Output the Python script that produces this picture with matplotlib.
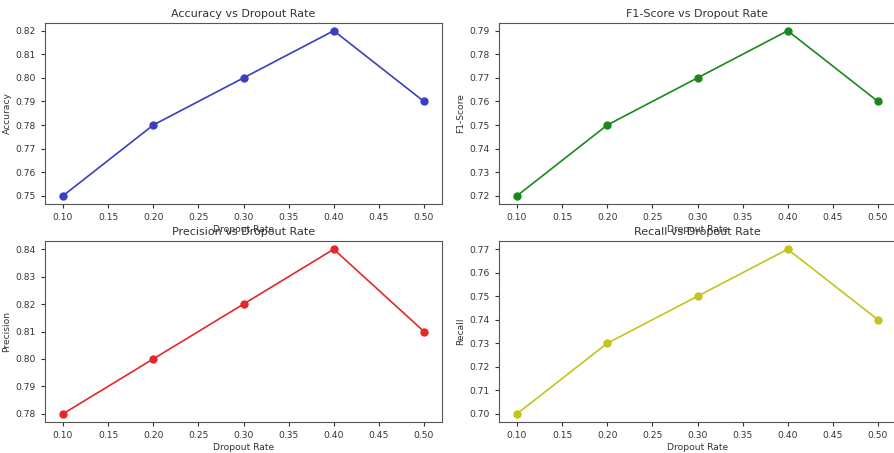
import matplotlib
matplotlib.use("Agg")
import matplotlib.pyplot as plt
from matplotlib.ticker import MultipleLocator

dropout_rates = [0.1, 0.2, 0.3, 0.4, 0.5]
accuracy = [0.75, 0.78, 0.80, 0.82, 0.79]
f1_score = [0.72, 0.75, 0.77, 0.79, 0.76]
precision = [0.78, 0.80, 0.82, 0.84, 0.81]
recall = [0.70, 0.73, 0.75, 0.77, 0.74]

W, H = 894, 453


def px_axes(fig, x0, y0, x1, y1):
    # pixel box (top-left origin) -> figure fraction
    return fig.add_axes([x0 / W, 1 - y1 / H, (x1 - x0) / W, (y1 - y0) / H])


def main():
    plt.rcParams["font.size"] = 6.6
    fig = plt.figure(figsize=(W / 100, H / 100), dpi=100)

    panels = [
        ((45, 22.5, 442, 204), accuracy, "Accuracy", "#3a3fc0"),
        ((499, 22.5, 896, 204), f1_score, "F1-Score", "#1a891a"),
        ((45, 241, 442, 422), precision, "Precision", "#e3282a"),
        ((499, 241, 896, 422), recall, "Recall", "#c4c41c"),
    ]

    for box, values, name, color in panels:
        ax = px_axes(fig, *box)
        ax.plot(dropout_rates, values, marker="o", color=color,
                linewidth=1.2, markersize=5)
        ax.yaxis.set_major_locator(MultipleLocator(0.01))
        ax.set_title(f"{name} vs Dropout Rate", fontsize=8, color="#333333", pad=4)
        ax.set_xlabel("Dropout Rate", color="#333333", labelpad=2)
        ax.set_ylabel(name, color="#333333", labelpad=3)
        ax.tick_params(colors="#333333", length=3, width=0.8, labelsize=6.6)
        for spine in ax.spines.values():
            spine.set_color("#555555")
            spine.set_linewidth(0.8)

    fig.savefig("out.png", dpi=100)


if __name__ == "__main__":
    main()
